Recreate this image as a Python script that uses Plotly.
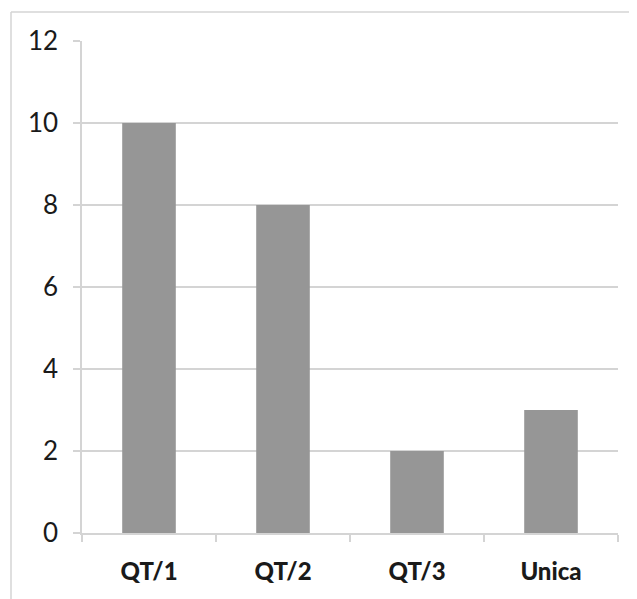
import plotly.graph_objects as go

categorias = ["QT/1", "QT/2", "QT/3", "Unica"]
valores = [10, 8, 2, 3]
y_ticks = [0, 2, 4, 6, 8, 10, 12]

cinza = "#d4d4d4"

fig = go.Figure(go.Bar(x=categorias, y=valores, marker=dict(color="#969696", line=dict(width=0))))

# a página tem 8px de margem no body, então a figura é 8px menor
fig.update_layout(
    width=629, height=591,
    margin=dict(l=74, r=19, t=33, b=66),
    plot_bgcolor="white",
    paper_bgcolor="white",
    bargap=0.6,
    showlegend=False,
    font=dict(family="Lato, 'DejaVu Sans', sans-serif", color="#1a1a1a"),
)

fig.update_yaxes(
    range=[0, 12], tickvals=y_ticks, showgrid=True, gridcolor=cinza, gridwidth=1.5,
    showline=True, linecolor=cinza, linewidth=1.5,
    ticks="outside", ticklen=7, tickcolor=cinza, tickwidth=1.5,
    tickfont=dict(size=26), zeroline=False, ticklabelstandoff=10,
)
fig.update_xaxes(
    showline=True, linecolor=cinza, linewidth=1.5,
    ticks="outside", tickson="boundaries", ticklen=7, tickcolor=cinza, tickwidth=1.5,
    tickfont=dict(size=24, weight=900), ticklabelstandoff=16,
)

# moldura do gráfico (cortada à direita e embaixo)
fig.add_shape(type="line", xref="paper", yref="paper", x0=(11 - 82) / 536, x1=1.2,
              y0=(533 - 12) / 492, y1=(533 - 12) / 492, line=dict(color=cinza, width=1.5))
fig.add_shape(type="line", xref="paper", yref="paper", x0=(11 - 82) / 536, x1=(11 - 82) / 536,
              y0=(533 - 12) / 492, y1=-0.3, line=dict(color=cinza, width=1.5))

fig.write_html("out.html")
